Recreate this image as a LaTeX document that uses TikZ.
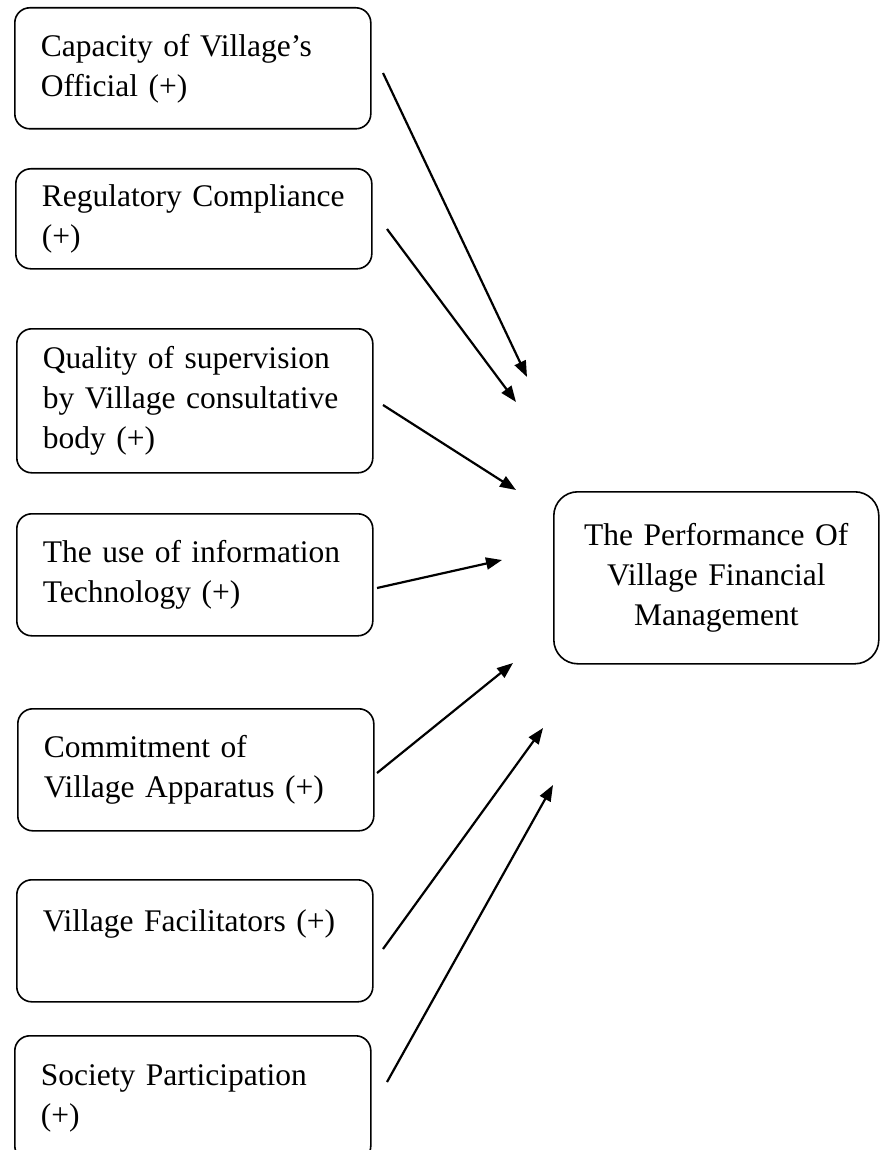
\documentclass[tikz,border=0pt]{standalone}
\usepackage{fontspec}
\setmainfont{Liberation Serif}
\usetikzlibrary{arrows.meta}
\tikzset{
  factor/.style={draw, rounded corners=15pt, line width=1.6pt, anchor=north west,
    minimum width=356pt, inner xsep=26pt, text width=304pt, align=left,
    font=\fontsize{31.5}{40}\selectfont},
  outcome/.style={draw, rounded corners=24pt, line width=1.6pt, anchor=north west,
    minimum width=325pt, minimum height=172pt, text width=300pt, align=center,
    font=\fontsize{31.5}{40}\selectfont},
  link/.style={-{Triangle[length=16pt,width=12pt]}, line width=2.2pt}
}
\begin{document}
\begin{tikzpicture}[x=1pt,y=-1pt]
\useasboundingbox (0,0) rectangle (880,1150);
\clip (0,0) rectangle (880,1150);
% factors
\node[factor, minimum height=121pt] (cap) at (14,7) {Capacity of Village’s\\Official (+)};
\node[factor, minimum height=100pt] (reg) at (15,168) {Regulatory Compliance\\(+)};
\node[factor, minimum height=144pt] (qual) at (16,328) {Quality of supervision\\by Village consultative\\body (+)};
\node[factor, minimum height=122pt] (tech) at (16,513) {The use of information\\Technology (+)};
\node[factor, minimum height=122pt] (comm) at (17,708) {Commitment of\\Village Apparatus (+)};
\node[factor, minimum height=122pt, minimum width=349pt] (facil) at (16,879) {Village Facilitators (+)\\\mbox{}};
\node[factor, minimum height=125pt, minimum width=350pt] (soc) at (14,1035) {Society Participation\\(+)};
% outcome
\node[outcome] (perf) at (553,491) {The Performance Of\\Village Financial\\Management};
% arrow ends
\coordinate (cap-out) at (383,73);
\coordinate (reg-out) at (387,229);
\coordinate (qual-out) at (383,405);
\coordinate (tech-out) at (377,588);
\coordinate (comm-out) at (377,773);
\coordinate (facil-out) at (383,949);
\coordinate (soc-out) at (387,1082);
\coordinate (perf-in1) at (527,377);
\coordinate (perf-in2) at (516,402);
\coordinate (perf-in3) at (516,490);
\coordinate (perf-in4) at (502,560);
\coordinate (perf-in5) at (513,663);
\coordinate (perf-in6) at (543,728);
\coordinate (perf-in7) at (553,785);
\draw[link] (cap-out) -- (perf-in1);
\draw[link] (reg-out) -- (perf-in2);
\draw[link] (qual-out) -- (perf-in3);
\draw[link] (tech-out) -- (perf-in4);
\draw[link] (comm-out) -- (perf-in5);
\draw[link] (facil-out) -- (perf-in6);
\draw[link] (soc-out) -- (perf-in7);
\end{tikzpicture}
\end{document}
